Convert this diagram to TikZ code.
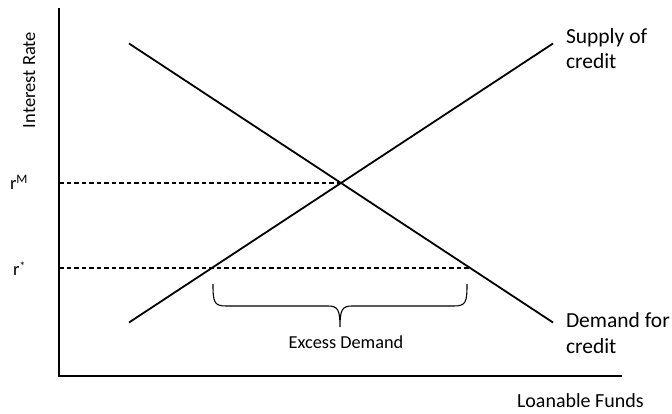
\documentclass[tikz,border=0pt]{standalone}
\usepackage{fontspec}
\setmainfont{Carlito}
\begin{document}
\begin{tikzpicture}[x=1pt,y=-1pt,
  axisline/.style={line width=1.8pt,black},
  curve/.style={line width=1.8pt,black},
  guide/.style={line width=1.2pt,dash pattern=on 4.5pt off 3pt},
  bracestyle/.style={line width=1.1pt},
  lbl/.style={inner sep=0pt,outer sep=0pt,text=black}]
\useasboundingbox (0,0) rectangle (672,414);
% axes
\coordinate (ytop) at (59,8);
\coordinate (origin) at (59,376);
\coordinate (xend) at (622,376);
\draw[axisline] (ytop) -- (origin) -- (xend);
% curves
\coordinate (d1) at (129,43.5);
\coordinate (d2) at (553,322.5);
\coordinate (s1) at (129,322.5);
\coordinate (s2) at (553,43.5);
\draw[curve] (d1) -- (d2);
\draw[curve] (s1) -- (s2);
\coordinate (eq) at (intersection of d1--d2 and s1--s2);
% guides
\coordinate (rm0) at (origin |- eq);
\draw[guide] (rm0) -- (eq);
\coordinate (rs0) at (59,268);
\coordinate (rs1) at (470,268);
\draw[guide] (rs0) -- (rs1);
% brace
\coordinate (bl) at (213,284);
\coordinate (br) at (467,284);
\coordinate (btip) at (340,327);
\draw[bracestyle] (bl) .. controls (213,302) and (214,306) .. (226,306)
  -- (328,306) .. controls (338,306) and (340,310) .. (btip)
  .. controls (340,310) and (342,306) .. (352,306)
  -- (454,306) .. controls (466,306) and (467,302) .. (br);
% labels
\node[lbl,anchor=base,font=\fontsize{18.3}{22}\selectfont] (exc) at (346,348) {Excess Demand};
\node[lbl,anchor=north west,align=left,font=\fontsize{21.5}{25}\selectfont] (sup) at (566,29) {Supply of\\credit};
\node[lbl,anchor=north west,align=left,font=\fontsize{21.5}{26}\selectfont] (dem) at (566,313) {Demand for\\credit};
\node[lbl,anchor=base west,font=\fontsize{20}{24}\selectfont] (lf) at (517,407) {Loanable Funds};
\node[lbl,anchor=base,rotate=90,font=\fontsize{18.5}{22}\selectfont] (ir) at (35,80) {Interest Rate};
\node[lbl,anchor=base west,font=\fontsize{18.5}{22}\selectfont] (rmlbl) at (10,190) {r\textsuperscript{M}};
\node[lbl,anchor=base west,font=\fontsize{18.5}{22}\selectfont] (rslbl) at (13,275) {r\raisebox{0.5ex}{\fontsize{12}{14}\selectfont *}};
\end{tikzpicture}
\end{document}
